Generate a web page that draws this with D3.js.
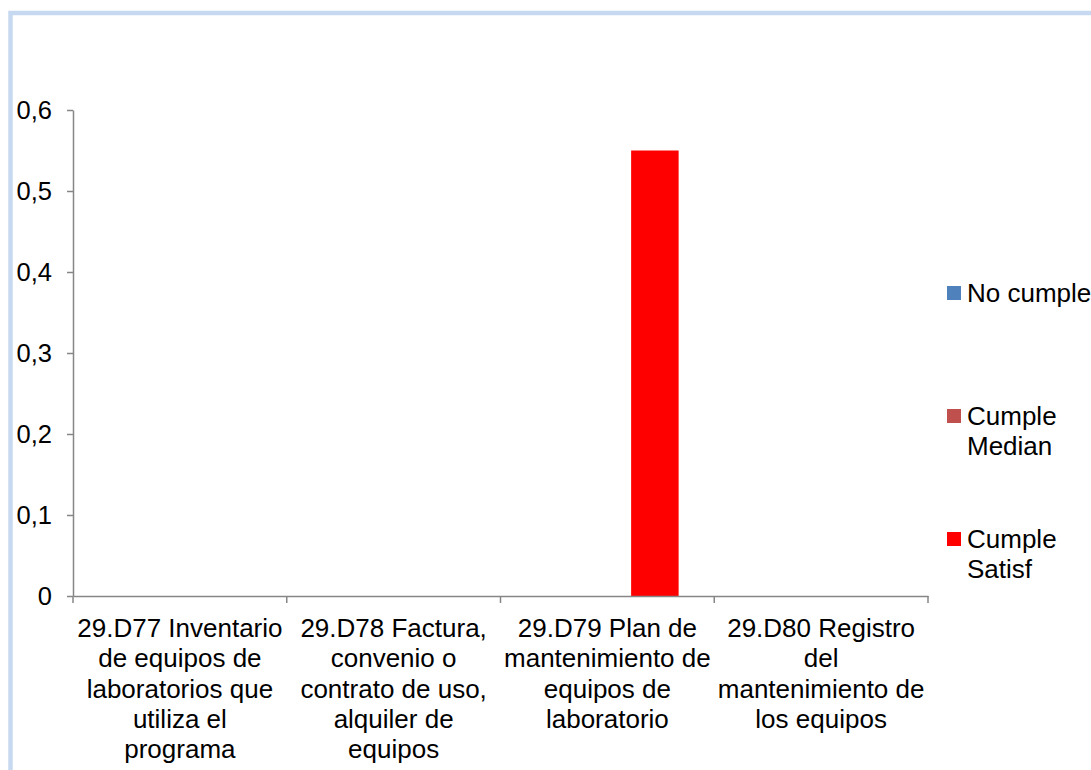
<!DOCTYPE html>
<html>
<head>
<meta charset="utf-8">
<script src="https://cdn.jsdelivr.net/npm/d3@7"></script>
<style>
  html, body { margin: 0; padding: 0; background: #fff; }
  svg { display: block; font-family: "Liberation Sans", Arial, sans-serif; }
</style>
</head>
<body>
<svg id="chart" width="1091" height="770"></svg>
<script>
const categories = ["D77", "D78", "D79", "D80"];
const categoryLabels = [
  ["29.D77 Inventario", "de equipos de", "laboratorios que", "utiliza el", "programa"],
  ["29.D78 Factura,", "convenio o", "contrato de uso,", "alquiler de", "equipos"],
  ["29.D79 Plan de", "mantenimiento de", "equipos de", "laboratorio"],
  ["29.D80 Registro", "del", "mantenimiento de", "los equipos"]
];
const seriesNames = ["No cumple", "Cumple Median", "Cumple Satisf"];
const legendLines = [["No cumple"], ["Cumple", "Median"], ["Cumple", "Satisf"]];
const seriesColors = ["#4f81bd", "#c0504d", "#ff0000"];
const noCumple = [0, 0, 0, 0];
const cumpleMedian = [0, 0, 0, 0];
const cumpleSatisf = [0, 0, 0.55, 0];
const yTicks = [0, 0.1, 0.2, 0.3, 0.4, 0.5, 0.6];
const yTickLabels = ["0", "0,1", "0,2", "0,3", "0,4", "0,5", "0,6"];

const seriesValues = [noCumple, cumpleMedian, cumpleSatisf];

const svg = d3.select("#chart");

// outer frame
svg.append("rect")
  .attr("x", 10.5).attr("y", 13)
  .attr("width", 1200).attr("height", 900)
  .attr("fill", "none")
  .attr("stroke", "#c6d9f1")
  .attr("stroke-width", 4.5);

const plot = { left: 73, right: 928, top: 110, bottom: 596 };

const x0 = d3.scaleBand().domain(categories).range([plot.left, plot.right]).paddingInner(0).paddingOuter(0);
// gap width 150% -> group occupies 3/4.5 of category
const groupFrac = 3 / 4.5;
const x1 = d3.scaleBand().domain(seriesNames)
  .range([0, x0.bandwidth() * groupFrac]).padding(0);
const groupOffset = x0.bandwidth() * (1 - groupFrac) / 2;

const y = d3.scaleLinear().domain([0, 0.6]).range([plot.bottom, plot.top]);

const defs = svg.append("defs");
const f = defs.append("filter").attr("id", "shadow").attr("x", "-5%").attr("y", "-200%").attr("width", "110%").attr("height", "600%");
f.append("feDropShadow").attr("dx", 0).attr("dy", 3).attr("stdDeviation", 2)
  .attr("flood-color", "#000").attr("flood-opacity", 0.18);

// gridlines
const grid = svg.append("g");
yTicks.filter(d => d > 0).forEach(t => {
  grid.append("line")
    .attr("x1", plot.left).attr("x2", plot.right)
    .attr("y1", y(t)).attr("y2", y(t))
    .attr("stroke", "#868686").attr("stroke-width", 1.5)
    .attr("filter", "url(#shadow)");
});

// bars
const groups = svg.append("g").selectAll("g")
  .data(categories)
  .join("g")
  .attr("transform", d => `translate(${x0(d) + groupOffset},0)`);

groups.selectAll("rect")
  .data((d, i) => seriesNames.map((s, j) => ({ s, j, v: seriesValues[j][i] })))
  .join("rect")
  .attr("x", d => x1(d.s))
  .attr("width", x1.bandwidth())
  .attr("y", d => y(d.v))
  .attr("height", d => y(0) - y(d.v))
  .attr("fill", d => seriesColors[d.j]);

// y axis
const yAxis = d3.axisLeft(y).tickValues(yTicks).tickSize(6).tickSizeOuter(0)
  .tickFormat((d, i) => yTickLabels[i]);
const ya = svg.append("g").attr("transform", `translate(${plot.left},0)`).call(yAxis);
ya.attr("font-family", null).attr("font-size", null);
ya.select(".domain").attr("stroke", "#868686").attr("stroke-width", 1.5);
ya.selectAll(".tick line").attr("stroke", "#868686").attr("stroke-width", 1.5);
ya.selectAll(".tick text")
  .attr("x", -21).attr("dy", "0.34em")
  .attr("font-size", 25.5).attr("fill", "#000")
  .attr("font-family", "'Liberation Sans', Arial, sans-serif")
  .attr("text-anchor", "end");

// x axis
const xAxis = d3.axisBottom(x0).tickSize(0).tickFormat("");
const xa = svg.append("g").attr("transform", `translate(0,${plot.bottom})`).call(xAxis);
xa.select(".domain").attr("stroke", "#868686").attr("stroke-width", 1.5);
// boundary ticks
const boundaries = categories.map(c => x0(c)).concat([x0(categories[categories.length - 1]) + x0.bandwidth()]);
xa.selectAll(".bound").data(boundaries).join("line")
  .attr("class", "bound")
  .attr("x1", d => d).attr("x2", d => d)
  .attr("y1", 0).attr("y2", 7)
  .attr("stroke", "#868686").attr("stroke-width", 1.5);

// category labels
const labelG = svg.append("g");
categories.forEach((c, i) => {
  const t = labelG.append("text")
    .attr("x", x0(c) + x0.bandwidth() / 2)
    .attr("y", 637)
    .attr("text-anchor", "middle")
    .attr("font-size", 26)
    .attr("fill", "#000");
  categoryLabels[i].forEach((line, k) => {
    t.append("tspan")
      .attr("x", x0(c) + x0.bandwidth() / 2)
      .attr("y", 637 + k * 30.3)
      .text(line);
  });
});

// legend
const legendY = [286, 409, 532];
const leg = svg.append("g");
seriesNames.forEach((s, i) => {
  leg.append("rect")
    .attr("x", 947).attr("y", legendY[i])
    .attr("width", 14).attr("height", 14)
    .attr("fill", seriesColors[i]);
  const t = leg.append("text")
    .attr("font-size", 26).attr("fill", "#000");
  legendLines[i].forEach((line, k) => {
    t.append("tspan").attr("x", 967).attr("y", legendY[i] + 16 + k * 29.5).text(line);
  });
});
</script>
</body>
</html>
